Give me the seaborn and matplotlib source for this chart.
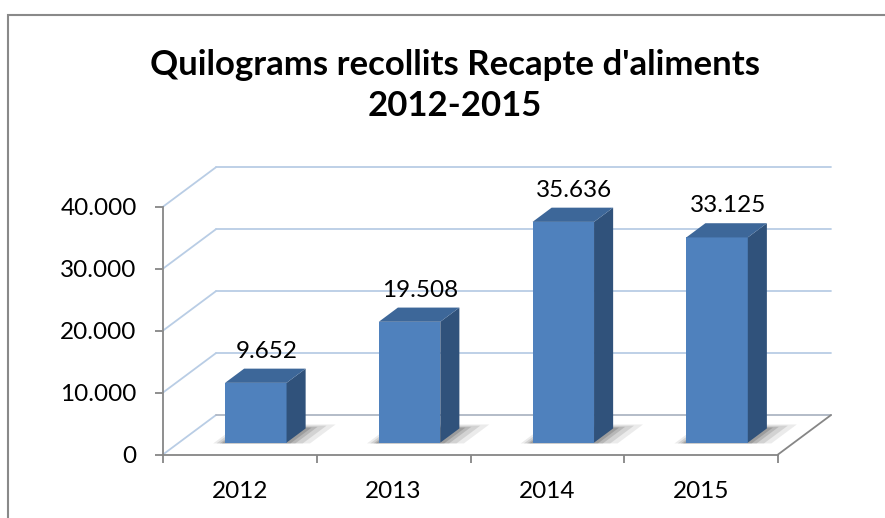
import matplotlib
matplotlib.use("Agg")
import matplotlib.pyplot as plt
import matplotlib.transforms as mtransforms
from matplotlib.patches import Polygon, Rectangle
import pandas as pd
import seaborn as sns

# dades
anys = ["2012", "2013", "2014", "2015"]
quilos = [9652, 19508, 35636, 33125]
etiquetes = ["9.652", "19.508", "35.636", "33.125"]
valors_eix = [0, 10000, 20000, 30000, 40000]
etiquetes_eix = ["0", "10.000", "20.000", "30.000", "40.000"]

sns.set_theme(style="white")
plt.rcParams["font.family"] = ["Lato", "DejaVu Sans"]
plt.rcParams["text.color"] = "black"
plt.rcParams["xtick.labelcolor"] = "black"
plt.rcParams["ytick.labelcolor"] = "black"

fig = plt.figure(figsize=(8.85, 5.18), dpi=100)
ax = fig.add_axes([163 / 885, 1 - 454.5 / 518, 615 / 885, 247.8 / 518])
ax.patch.set_visible(False)

# pseudo 3D: desplaçament de la paret del fons en unitats de dades
KX, KY = 0.345, 6376
D0, D1 = 0.30, 0.66


def proj(x, v, d):
    return (x + KX * d, v + KY * d)


GRIS = "#868686"
BLAU_GRID = "#B9CDE5"

# paret del fons i graella
for v in valors_eix:
    pts = [proj(-0.5, v, 0), proj(-0.5, v, 1), proj(3.5, v, 1)]
    xs, ys = zip(*pts)
    ax.plot(xs[:2], ys[:2], color=BLAU_GRID, lw=1.3, clip_on=False, zorder=1)
    ax.plot(xs[1:], ys[1:], color=("#AEB6C4" if v == 0 else BLAU_GRID),
            lw=1.3, clip_on=False, zorder=1)
# vora dreta del terra
xs, ys = zip(proj(3.5, 0, 0), proj(3.5, 0, 1))
ax.plot(xs, ys, color=GRIS, lw=1.3, clip_on=False, zorder=1)

df = pd.DataFrame({"any": anys, "kg": quilos})
sns.barplot(data=df, x="any", y="kg", color="#4F81BD", width=0.4,
            saturation=1, linewidth=0, ax=ax, zorder=5)

desp = mtransforms.Affine2D().translate(KX * D0, KY * D0) + ax.transData
for p in list(ax.patches):
    x0, w, h = p.get_x(), p.get_width(), p.get_height()
    p.set_transform(desp)
    p.set_clip_on(False)
    # ombra al terra
    for k, a in [(0.10, 0.10), (0.07, 0.14), (0.04, 0.18), (0.02, 0.22)]:
        ombra = [proj(x0 - k * 0.7, 0, D0 - 0.02), proj(x0 + w + k * 1.6, 0, D0 - 0.02),
                 proj(x0 + w + k * 1.6, 0, D1 + k), proj(x0 - k * 0.7, 0, D1 + k)]
        ax.add_patch(Polygon(ombra, closed=True, facecolor="#404040", alpha=a,
                             lw=0, clip_on=False, zorder=2))
    lateral = [proj(x0 + w, 0, D0), proj(x0 + w, 0, D1),
               proj(x0 + w, h, D1), proj(x0 + w, h, D0)]
    sostre = [proj(x0, h, D0), proj(x0 + w, h, D0),
              proj(x0 + w, h, D1), proj(x0, h, D1)]
    ax.add_patch(Polygon(lateral, closed=True, facecolor="#30527B", lw=0,
                         clip_on=False, zorder=5))
    ax.add_patch(Polygon(sostre, closed=True, facecolor="#3D6799", lw=0,
                         clip_on=False, zorder=5))

for i, (v, t) in enumerate(zip(quilos, etiquetes)):
    ax.annotate(t, xy=proj(i, v, 0.5), xytext=(0, 17), textcoords="offset points",
                ha="center", va="center", fontsize=17.5, color="black", zorder=6)

ax.set_xlim(-0.5, 3.5)
ax.set_ylim(0, 40000)
ax.set_yticks(valors_eix)
ax.set_yticklabels(etiquetes_eix)
ax.set_xticks(range(len(anys)))
ax.set_xticklabels(anys)
ax.set_xticks([-0.5, 0.5, 1.5, 2.5, 3.5], minor=True)
ax.set_xlabel("")
ax.set_ylabel("")
ax.tick_params(axis="y", which="major", direction="out", length=6, width=1.3,
               color=GRIS, pad=13, labelsize=17.5, left=True)
ax.tick_params(axis="x", which="major", length=0, pad=19, labelsize=17.5)
ax.tick_params(axis="x", which="minor", direction="out", length=6, width=1.3,
               color=GRIS, bottom=True)
for s in ["top", "right"]:
    ax.spines[s].set_visible(False)
for s in ["left", "bottom"]:
    ax.spines[s].set_color(GRIS)
    ax.spines[s].set_linewidth(1.3)

# marc del gràfic
fig.patches.append(Rectangle((8 / 885, -0.1), 1.2, 1 - 15 / 518 + 0.1,
                             transform=fig.transFigure, fill=False,
                             edgecolor="#898989", lw=1.5))

fig.text(0.514, 1 - 65 / 518, "Quilograms recollits Recapte d'aliments",
         ha="center", va="center", fontsize=25, fontweight="bold")
fig.text(0.514, 1 - 106 / 518, "2012-2015",
         ha="center", va="center", fontsize=25, fontweight="bold")

fig.savefig("out.png", dpi=100)
